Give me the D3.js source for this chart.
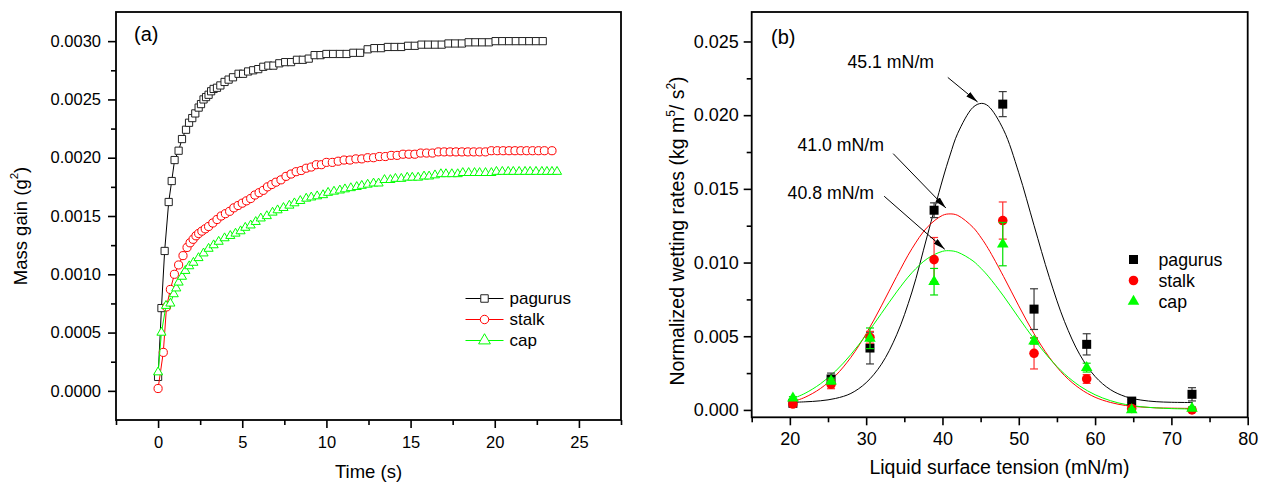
<!DOCTYPE html>
<html>
<head>
<meta charset="utf-8">
<script src="https://cdn.jsdelivr.net/npm/d3@7"></script>
<style>
  body { margin: 0; background: #fff; }
  svg { display: block; }
</style>
</head>
<body>
<svg id="chart" width="1264" height="483"></svg>
<script>
// ---------- (a) mass gain vs time ----------
const pagurusT = [0, 0.2, 0.39, 0.63, 0.81, 0.98, 1.22, 1.42, 1.66, 1.84, 2.03, 2.21, 2.41, 2.55, 2.7, 2.85, 3.0, 3.15, 3.3, 3.5, 3.7, 3.95, 4.19, 4.45, 4.78, 5.05, 5.35, 5.65, 5.95, 6.25, 6.55, 6.85, 7.2, 7.55, 7.9, 8.25, 8.6, 8.95, 9.3, 9.65, 10.0, 10.4, 10.8, 11.2, 11.6, 12.0, 12.45, 12.85, 13.25, 13.65, 14.05, 14.45, 14.85, 15.25, 15.65, 16.05, 16.45, 16.85, 17.25, 17.65, 18.05, 18.45, 18.85, 19.25, 19.65, 20.05, 20.45, 20.85, 21.25, 21.65, 22.05, 22.45, 22.85];
const pagurusM = [0.00012, 0.00071, 0.0012, 0.00162, 0.0018, 0.00198, 0.00206, 0.00216, 0.00224, 0.0023, 0.00234, 0.00238, 0.00243, 0.00246, 0.0025, 0.00252, 0.00254, 0.00257, 0.00259, 0.0026, 0.00262, 0.00265, 0.00267, 0.00269, 0.00272, 0.00272, 0.00274, 0.00275, 0.00276, 0.00278, 0.00279, 0.00279, 0.00281, 0.00282, 0.00282, 0.00284, 0.00284, 0.00285, 0.00288, 0.00288, 0.00289, 0.00289, 0.00289, 0.00289, 0.0029, 0.0029, 0.00293, 0.00294, 0.00294, 0.00295, 0.00295, 0.00295, 0.00296, 0.00296, 0.00297, 0.00297, 0.00297, 0.00297, 0.00298, 0.00298, 0.00298, 0.00299, 0.00299, 0.00299, 0.00299, 0.003, 0.003, 0.003, 0.003, 0.003, 0.003, 0.003, 0.003];

const stalkT = [0, 0.31, 0.5, 0.73, 0.97, 1.22, 1.48, 1.72, 1.9, 2.08, 2.25, 2.41, 2.6, 2.8, 3.0, 3.25, 3.5, 3.75, 4.0, 4.25, 4.5, 4.75, 5.0, 5.25, 5.5, 5.75, 6.0, 6.25, 6.5, 6.75, 7.0, 7.3, 7.6, 7.9, 8.2, 8.5, 8.8, 9.1, 9.4, 9.7, 10.0, 10.35, 10.7, 11.05, 11.4, 11.75, 12.1, 12.45, 12.8, 13.15, 13.5, 13.85, 14.2, 14.55, 14.9, 15.25, 15.6, 15.95, 16.3, 16.65, 17.0, 17.35, 17.7, 18.05, 18.4, 18.75, 19.1, 19.45, 19.8, 20.15, 20.5, 20.85, 21.2, 21.55, 21.9, 22.25, 22.6, 22.95, 23.4];
const stalkM = [0.00002, 0.00033, 0.00072, 0.00087, 0.001, 0.00108, 0.00116, 0.00123, 0.00127, 0.0013, 0.00133, 0.00135, 0.00137, 0.00139, 0.00141, 0.00144, 0.00147, 0.0015, 0.00152, 0.00154, 0.00157, 0.00159, 0.00161, 0.00163, 0.00165, 0.00168, 0.0017, 0.00172, 0.00175, 0.00177, 0.00179, 0.00181, 0.00184, 0.00186, 0.00188, 0.00189, 0.00191, 0.00192, 0.00194, 0.00194, 0.00196, 0.00196, 0.00197, 0.00198, 0.00198, 0.00199, 0.00199, 0.002, 0.002, 0.00201, 0.00201, 0.00202, 0.00202, 0.00203, 0.00203, 0.00203, 0.00204, 0.00204, 0.00204, 0.00205, 0.00205, 0.00205, 0.00205, 0.00205, 0.00205, 0.00205, 0.00205, 0.00205, 0.00206, 0.00206, 0.00206, 0.00206, 0.00206, 0.00206, 0.00206, 0.00206, 0.00206, 0.00206, 0.00206];

const capT = [0, 0.2, 0.47, 0.73, 0.93, 1.08, 1.22, 1.42, 1.62, 1.85, 2.1, 2.4, 2.7, 3.0, 3.3, 3.6, 3.95, 4.29, 4.6, 4.9, 5.18, 5.5, 5.8, 6.1, 6.46, 6.8, 7.1, 7.45, 7.8, 8.1, 8.45, 8.8, 9.1, 9.45, 9.8, 10.1, 10.45, 10.8, 11.1, 11.45, 11.8, 12.1, 12.45, 12.8, 13.1, 13.45, 13.8, 14.1, 14.45, 14.8, 15.1, 15.45, 15.8, 16.1, 16.45, 16.8, 17.1, 17.45, 17.8, 18.1, 18.45, 18.8, 19.1, 19.45, 19.8, 20.1, 20.45, 20.8, 21.1, 21.45, 21.8, 22.1, 22.45, 22.8, 23.1, 23.4, 23.7];
const capM = [0.00016, 0.0005, 0.00073, 0.00075, 0.00083, 0.00088, 0.00093, 0.00098, 0.00103, 0.00107, 0.0011, 0.00114, 0.00118, 0.00122, 0.00125, 0.00128, 0.00131, 0.00133, 0.00135, 0.00137, 0.0014, 0.00142, 0.00145, 0.00148, 0.0015, 0.00153, 0.00155, 0.00157, 0.00159, 0.00161, 0.00163, 0.00165, 0.00166, 0.00167, 0.00168, 0.0017, 0.00171, 0.00172, 0.00173, 0.00174, 0.00175, 0.00176, 0.00177, 0.00178, 0.00178, 0.00181, 0.00181, 0.00182, 0.00182, 0.00183, 0.00183, 0.00183, 0.00184, 0.00184, 0.00185, 0.00186, 0.00186, 0.00186, 0.00186, 0.00187, 0.00187, 0.00187, 0.00187, 0.00187, 0.00187, 0.00188, 0.00188, 0.00188, 0.00188, 0.00188, 0.00188, 0.00188, 0.00188, 0.00188, 0.00188, 0.00188, 0.00188];

const timeTicks = [0, 5, 10, 15, 20, 25];
const timeMinorTicks = [-2.5, 2.5, 7.5, 12.5, 17.5, 22.5, 27.5];
const massTicks = [0, 0.0005, 0.001, 0.0015, 0.002, 0.0025, 0.003];
const massMinorTicks = [0.00025, 0.00075, 0.00125, 0.00175, 0.00225, 0.00275];

// ---------- (b) normalized wetting rate vs surface tension ----------
const tension = [20.4, 25.4, 30.5, 38.9, 47.9, 52.0, 58.9, 64.8, 72.7];
const pagurusRate = [0.00045, 0.0021, 0.0042, 0.01355, 0.02075, 0.00684, 0.00445, 0.0006, 0.00106];
const pagurusErr  = [0.0001, 0.0004, 0.00108, 0.0005, 0.00085, 0.00138, 0.00072, 0.0001, 0.00045];
const stalkRate   = [0.0004, 0.00174, 0.00493, 0.0102, 0.01285, 0.00384, 0.0021, 0.0001, 0.0000];
const stalkErr    = [0.0001, 0.0003, 0.0004, 0.0015, 0.00126, 0.00106, 0.0003, 0.0001, 0.0001];
const capRate     = [0.0008, 0.00196, 0.00486, 0.0087, 0.01125, 0.00467, 0.00287, 0.0000, 0.0001];
const capErr      = [0.0001, 0.0002, 0.0007, 0.0009, 0.00147, 0.0002, 0.0003, 0.0001, 0.0001];

// fitted peak curves, sampled along the tension axis
const fitX       = [20.4, 22, 24, 26, 28, 30, 32, 34, 36, 38, 40, 41, 42, 44, 45.1, 46, 48, 50, 52, 54, 56, 58, 60, 62, 64, 66, 68, 70, 72.8];
const pagurusFit = [0.00052, 0.00055, 0.00062, 0.00078, 0.00112, 0.00185, 0.0031, 0.0051, 0.008, 0.0118, 0.0156, 0.0173, 0.01877, 0.02053, 0.0208, 0.02062, 0.01901, 0.01609, 0.01252, 0.009, 0.00599, 0.00375, 0.00227, 0.00138, 0.0009, 0.00067, 0.00056, 0.00052, 0.0005];
const stalkFit   = [0.00056, 0.00086, 0.00145, 0.00233, 0.00357, 0.00517, 0.00706, 0.00906, 0.01094, 0.01239, 0.0132, 0.0133, 0.0132, 0.01239, 0.01166, 0.01094, 0.00906, 0.00706, 0.00517, 0.00357, 0.00233, 0.00145, 0.00086, 0.00051, 0.0003, 0.0002, 0.00014, 0.00012, 0.0001];
const capFit     = [0.00077, 0.00113, 0.00177, 0.00264, 0.00376, 0.00509, 0.00655, 0.00801, 0.00931, 0.01026, 0.01076, 0.0108, 0.0107, 0.01011, 0.00958, 0.00907, 0.00773, 0.00625, 0.00481, 0.00351, 0.00244, 0.00162, 0.00103, 0.00063, 0.00037, 0.00022, 0.00014, 0.00009, 0.00006];

const tensionTicks = [20, 30, 40, 50, 60, 70, 80];
const tensionMinorTicks = [15, 25, 35, 45, 55, 65, 75];
const rateTicks = [0, 0.005, 0.01, 0.015, 0.02, 0.025];
const rateMinorTicks = [0.0025, 0.0075, 0.0125, 0.0175, 0.0225];

const seriesNames = ["pagurus", "stalk", "cap"];
const peakLabels = ["45.1 mN/m", "41.0 mN/m", "40.8 mN/m"];

// ---------- styling ----------
const FONT = '"Liberation Sans", Arial, Helvetica, sans-serif';
const COLORS = { pagurus: "#000000", stalk: "#ff0000", cap: "#00ff00" };
const ERR_COLORS = { pagurus: "#3a3a3a", stalk: "#ff3030", cap: "#00e000" };

const svg = d3.select("#chart");

const defs = svg.append("defs");
defs.append("marker")
  .attr("id", "arrowhead")
  .attr("viewBox", "0 0 12 6")
  .attr("refX", 12).attr("refY", 3)
  .attr("markerWidth", 12).attr("markerHeight", 6)
  .attr("markerUnits", "userSpaceOnUse")
  .attr("orient", "auto")
  .append("path").attr("d", "M0,0 L12,3 L0,6 Z").attr("fill", "#000");

function symbolPath(type, size) {
  const t = type === "pagurus" ? d3.symbolSquare : type === "stalk" ? d3.symbolCircle : d3.symbolTriangle;
  return d3.symbol().type(t).size(size)();
}

function drawAxes(g, x, y, o) {
  const [xl, xr] = x.range();
  const [yb, yt] = y.range();

  const major = d3.axisBottom(x).tickValues(o.xTicks).tickFormat(o.xFmt)
    .tickSize(o.tick).tickSizeOuter(0).tickPadding(o.xPad);
  const minor = d3.axisBottom(x).tickValues(o.xMinor).tickFormat("")
    .tickSize(o.minor).tickSizeOuter(0);
  const yMajor = d3.axisLeft(y).tickValues(o.yTicks).tickFormat(o.yFmt)
    .tickSize(o.tick).tickSizeOuter(0).tickPadding(o.yPad);
  const yMinor = d3.axisLeft(y).tickValues(o.yMinor).tickFormat("")
    .tickSize(o.minor).tickSizeOuter(0);

  g.append("g").attr("transform", `translate(0,${yb})`).call(major);
  g.append("g").attr("transform", `translate(0,${yb})`).call(minor);
  g.append("g").attr("transform", `translate(${xl},0)`).call(yMajor);
  g.append("g").attr("transform", `translate(${xl},0)`).call(yMinor);

  g.selectAll(".domain").remove();
  g.selectAll(".tick line").attr("stroke", "#000").attr("stroke-width", 1.6);
  g.selectAll(".tick text").attr("font-family", FONT).attr("font-size", o.font).attr("fill", "#000");

  g.append("rect")
    .attr("x", xl).attr("y", yt)
    .attr("width", xr - xl).attr("height", yb - yt)
    .attr("fill", "none").attr("stroke", "#000").attr("stroke-width", 1.8);
}

// ================= panel (a) =================
const gA = svg.append("g");
const xA = d3.scaleLinear().domain([-2.5, 27.5]).range([116, 621]);
const yA = d3.scaleLinear().domain([-0.00025, 0.00325]).range([420, 12]);

drawAxes(gA, xA, yA, {
  xTicks: timeTicks, xMinor: timeMinorTicks, xFmt: d3.format("d"), xPad: 8,
  yTicks: massTicks, yMinor: massMinorTicks, yFmt: d3.format(".4f"), yPad: 7,
  tick: 8, minor: 5, font: 16.5
});

const seriesA = [
  { name: "pagurus", t: pagurusT, m: pagurusM, size: 52, stroke: "#222" },
  { name: "stalk", t: stalkT, m: stalkM, size: 52, stroke: COLORS.stalk },
  { name: "cap", t: capT, m: capM, size: 36, stroke: COLORS.cap }
];

const lineA = d3.line().x(d => xA(d[0])).y(d => yA(d[1]));

seriesA.forEach(s => {
  const pts = d3.zip(s.t, s.m);
  const g = gA.append("g");
  g.append("path").datum(pts)
    .attr("d", lineA).attr("fill", "none")
    .attr("stroke", COLORS[s.name]).attr("stroke-width", 1);
  g.selectAll("path.pt").data(pts).join("path")
    .attr("class", "pt")
    .attr("d", symbolPath(s.name, s.size))
    .attr("transform", d => `translate(${xA(d[0])},${yA(d[1])})`)
    .attr("fill", "#fff")
    .attr("stroke", s.stroke).attr("stroke-width", 1);
});

// legend (a)
const legA = gA.append("g").attr("font-family", FONT).attr("font-size", 17);
seriesA.forEach((s, i) => {
  const yy = 298.5 + i * 21;
  legA.append("line").attr("x1", 465.5).attr("x2", 503.5).attr("y1", yy).attr("y2", yy)
    .attr("stroke", COLORS[s.name]).attr("stroke-width", 1);
  legA.append("path").attr("d", symbolPath(s.name, s.name === "cap" ? 60 : 56))
    .attr("transform", `translate(484.5,${yy})`)
    .attr("fill", "#fff").attr("stroke", s.stroke).attr("stroke-width", 1);
  legA.append("text").attr("x", 509.5).attr("y", yy).attr("dy", "0.35em").text(seriesNames[i]);
});

gA.append("text").attr("x", 134).attr("y", 34).attr("dy", "0.35em")
  .attr("font-family", FONT).attr("font-size", 20).text("(a)");

gA.append("text").attr("x", 368.5).attr("y", 478)
  .attr("text-anchor", "middle").attr("font-family", FONT).attr("font-size", 18.5)
  .text("Time (s)");

const yTitleA = gA.append("text")
  .attr("transform", "translate(27,226) rotate(-90)")
  .attr("text-anchor", "middle").attr("font-family", FONT).attr("font-size", 18.5);
yTitleA.append("tspan").text("Mass gain (g");
yTitleA.append("tspan").attr("font-size", 11.5).attr("dy", "-0.75em").text("2");
yTitleA.append("tspan").attr("dy", "0.45em").text(")");

// ================= panel (b) =================
const gB = svg.append("g");
const xB = d3.scaleLinear().domain([15, 80]).range([751.7, 1247.7]);
const yB = d3.scaleLinear().domain([-0.0005, 0.027]).range([417.3, 12]);

drawAxes(gB, xB, yB, {
  xTicks: tensionTicks, xMinor: tensionMinorTicks, xFmt: d3.format("d"), xPad: 7,
  yTicks: rateTicks, yMinor: rateMinorTicks, yFmt: d3.format(".3f"), yPad: 5,
  tick: 8, minor: 5, font: 18
});

const seriesB = [
  { name: "pagurus", v: pagurusRate, e: pagurusErr, fit: pagurusFit, size: 81 },
  { name: "stalk", v: stalkRate, e: stalkErr, fit: stalkFit, size: 72 },
  { name: "cap", v: capRate, e: capErr, fit: capFit, size: 58 }
];

const fitLine = d3.line().curve(d3.curveCatmullRom.alpha(0.5))
  .x(d => xB(d[0])).y(d => yB(d[1]));

seriesB.forEach(s => {
  gB.append("path").datum(d3.zip(fitX, s.fit))
    .attr("d", fitLine).attr("fill", "none")
    .attr("stroke", COLORS[s.name]).attr("stroke-width", 1);
});

seriesB.forEach(s => {
  const pts = d3.zip(tension, s.v, s.e);
  const g = gB.append("g");
  const eb = g.selectAll("g.err").data(pts).join("g").attr("class", "err")
    .attr("stroke", ERR_COLORS[s.name]).attr("stroke-width", 1.2);
  eb.append("line")
    .attr("x1", d => xB(d[0])).attr("x2", d => xB(d[0]))
    .attr("y1", d => yB(d[1] - d[2])).attr("y2", d => yB(d[1] + d[2]));
  eb.append("line")
    .attr("x1", d => xB(d[0]) - 4).attr("x2", d => xB(d[0]) + 4)
    .attr("y1", d => yB(d[1] + d[2])).attr("y2", d => yB(d[1] + d[2]));
  eb.append("line")
    .attr("x1", d => xB(d[0]) - 4).attr("x2", d => xB(d[0]) + 4)
    .attr("y1", d => yB(d[1] - d[2])).attr("y2", d => yB(d[1] - d[2]));
  g.selectAll("path.pt").data(pts).join("path")
    .attr("class", "pt")
    .attr("d", symbolPath(s.name, s.size))
    .attr("transform", d => `translate(${xB(d[0])},${yB(d[1])})`)
    .attr("fill", COLORS[s.name]);
});

// peak annotations: label anchor, arrow start and arrow tip in data units
const peakAnnotations = [
  { label: peakLabels[0], at: [27.56, 0.0236], from: [40.7, 0.02256], to: [44.6, 0.0209] },
  { label: peakLabels[1], at: [21.0, 0.0180], from: [33.54, 0.01739], to: [40.45, 0.0137] },
  { label: peakLabels[2], at: [19.7, 0.0147], from: [32.36, 0.0145], to: [40.3, 0.0109] }
];
peakAnnotations.forEach(a => {
  gB.append("text").attr("x", xB(a.at[0])).attr("y", yB(a.at[1])).attr("dy", "0.35em")
    .attr("font-family", FONT).attr("font-size", 17.7).text(a.label);
  gB.append("line")
    .attr("x1", xB(a.from[0])).attr("y1", yB(a.from[1]))
    .attr("x2", xB(a.to[0])).attr("y2", yB(a.to[1]))
    .attr("stroke", "#000").attr("stroke-width", 1)
    .attr("marker-end", "url(#arrowhead)");
});

// legend (b)
const legB = gB.append("g").attr("font-family", FONT).attr("font-size", 17.7);
seriesB.forEach((s, i) => {
  const yy = 259.5 + i * 21;
  legB.append("path").attr("d", symbolPath(s.name, s.size))
    .attr("transform", `translate(1133.5,${yy})`).attr("fill", COLORS[s.name]);
  legB.append("text").attr("x", 1158.5).attr("y", yy).attr("dy", "0.35em").text(seriesNames[i]);
});

gB.append("text").attr("x", 771).attr("y", 37).attr("dy", "0.35em")
  .attr("font-family", FONT).attr("font-size", 20).text("(b)");

gB.append("text").attr("x", 999.5).attr("y", 474)
  .attr("text-anchor", "middle").attr("font-family", FONT).attr("font-size", 19.5)
  .text("Liquid surface tension (mN/m)");

const yTitleB = gB.append("text")
  .attr("transform", "translate(684,231) rotate(-90)")
  .attr("text-anchor", "middle").attr("font-family", FONT).attr("font-size", 19.5);
yTitleB.append("tspan").text("Normalized wetting rates (kg m");
yTitleB.append("tspan").attr("font-size", 12).attr("dy", "-0.75em").text("5");
yTitleB.append("tspan").attr("dy", "0.45em").text("/ s");
yTitleB.append("tspan").attr("font-size", 12).attr("dy", "-0.75em").text("2");
yTitleB.append("tspan").attr("dy", "0.45em").text(")");
</script>
</body>
</html>
